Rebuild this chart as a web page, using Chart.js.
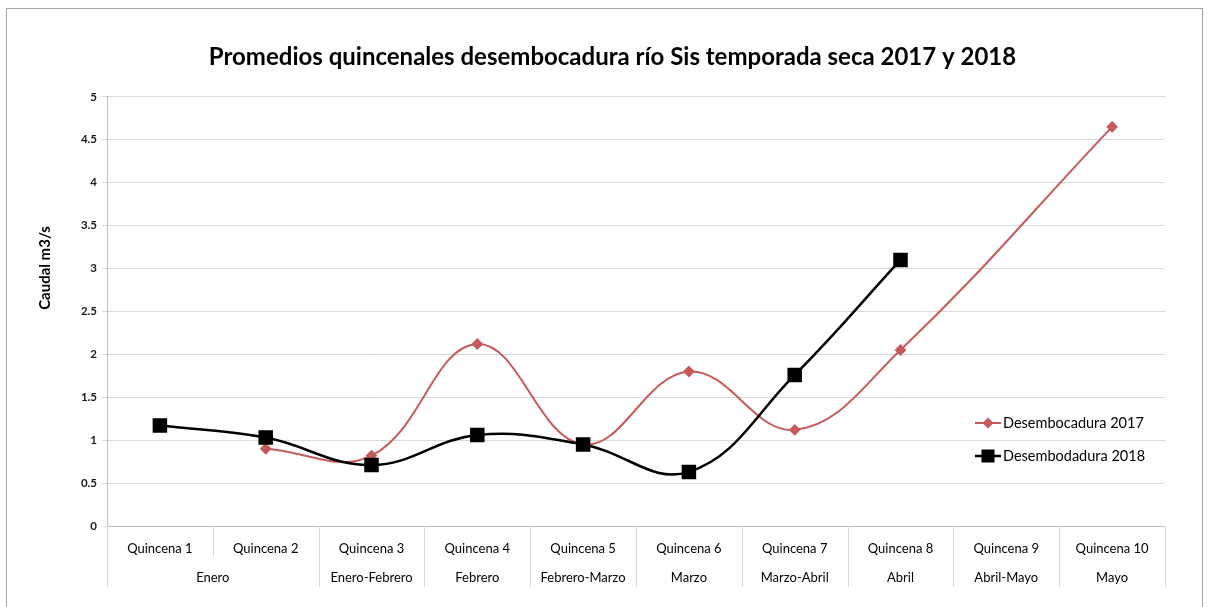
<!DOCTYPE html>
<html>
<head>
<meta charset="utf-8">
<script src="https://cdn.jsdelivr.net/npm/chart.js@4/dist/chart.umd.min.js"></script>
<style>
html,body{margin:0;padding:0;background:#fff;}
#wrap{position:relative;width:1208px;height:607px;overflow:hidden;}
#frame{position:absolute;left:6px;top:8px;width:1197px;height:640px;border:1px solid #a6a6a6;box-sizing:border-box;pointer-events:none;}
canvas{position:absolute;left:0;top:0;}
</style>
</head>
<body>
<div id="wrap"><canvas id="c" width="1208" height="607"></canvas><div id="frame"></div></div>
<script>
const titleText = 'Promedios quincenales desembocadura río Sis temporada seca 2017 y 2018';
const yTitle = 'Caudal m3/s';
const categories = ['Quincena 1','Quincena 2','Quincena 3','Quincena 4','Quincena 5','Quincena 6','Quincena 7','Quincena 8','Quincena 9','Quincena 10'];
const periods = ['Enero','Enero','Enero-Febrero','Febrero','Febrero-Marzo','Marzo','Marzo-Abril','Abril','Abril-Mayo','Mayo'];
const seriesNames = ['Desembocadura 2017','Desembodadura 2018'];
const values2017 = [null,0.9,0.82,2.12,0.95,1.8,1.12,2.05,null,4.65];
const values2018 = [1.17,1.03,0.71,1.06,0.95,0.63,1.76,3.1,null,null];
const yMin = 0, yMax = 5, yStep = 0.5;

const RED = '#c65a58';
const BLACK = '#000000';
const FONT = 'Lato';

const groupPlugin = {
  id: 'groupPlugin',
  afterDraw(chart) {
    const ctx = chart.ctx;
    const x = chart.scales.x;
    const n = categories.length;
    const half = (x.getPixelForValue(1) - x.getPixelForValue(0)) / 2;
    const top = Math.round(x.top);
    ctx.save();
    ctx.strokeStyle = '#d9d9d9';
    ctx.lineWidth = 1;
    for (let i = 0; i <= n; i++) {
      const bx = i < n ? x.getPixelForValue(i) - half : x.getPixelForValue(n - 1) + half;
      const same = i > 0 && i < n && periods[i] === periods[i - 1];
      const yEnd = same ? top + 31 : top + 61;
      const px = Math.round(bx) + 0.5;
      ctx.beginPath();
      ctx.moveTo(px, top);
      ctx.lineTo(px, yEnd);
      ctx.stroke();
    }
    // group labels
    ctx.fillStyle = '#000';
    ctx.font = '13px ' + FONT;
    ctx.textAlign = 'center';
    ctx.textBaseline = 'middle';
    let start = 0;
    for (let i = 1; i <= n; i++) {
      if (i === n || periods[i] !== periods[start]) {
        const cx = (x.getPixelForValue(start) + x.getPixelForValue(i - 1)) / 2;
        ctx.fillText(periods[start], cx, top + 52);
        start = i;
      }
    }
    // y axis title
    ctx.save();
    ctx.translate(45, 268);
    ctx.rotate(-Math.PI / 2);
    ctx.font = 'bold 15px ' + FONT;
    ctx.fillText(yTitle, 0, 0);
    ctx.restore();
    // legend inside plot
    const ds = chart.data.datasets;
    const rows = [423, 456];
    ds.forEach((d, i) => {
      const y = rows[i];
      ctx.strokeStyle = d.borderColor;
      ctx.lineWidth = d.borderWidth;
      ctx.beginPath();
      ctx.moveTo(975, y);
      ctx.lineTo(1001, y);
      ctx.stroke();
      ctx.fillStyle = d.pointBackgroundColor;
      ctx.strokeStyle = d.borderColor;
      Chart.helpers.drawPoint(ctx, {pointStyle: d.pointStyle, radius: d.legendRadius, rotation: 0, borderWidth: 1}, 988, y);
      ctx.fillStyle = '#000';
      ctx.font = '14.5px ' + FONT;
      ctx.textAlign = 'left';
      ctx.textBaseline = 'middle';
      ctx.fillText(d.label, 1003, y);
    });
    ctx.restore();
  }
};

new Chart(document.getElementById('c'), {
  type: 'line',
  data: {
    labels: categories,
    datasets: [
      {
        label: seriesNames[0],
        data: values2017,
        borderColor: RED,
        backgroundColor: RED,
        pointBackgroundColor: RED,
        pointBorderColor: RED,
        borderWidth: 2,
        pointStyle: 'rectRot',
        pointRadius: 4.5,
        legendRadius: 4,
        tension: 0.4,
        spanGaps: true,
        order: 1
      },
      {
        label: seriesNames[1],
        data: values2018,
        borderColor: BLACK,
        backgroundColor: BLACK,
        pointBackgroundColor: BLACK,
        pointBorderColor: BLACK,
        borderWidth: 2.5,
        pointStyle: 'rect',
        pointRadius: 8.5,
        legendRadius: 7.5,
        tension: 0.4,
        spanGaps: false,
        order: 0
      }
    ]
  },
  options: {
    responsive: false,
    animation: false,
    layout: { padding: { left: 60, right: 43, top: 0, bottom: 0 } },
    plugins: {
      legend: { display: false },
      tooltip: { enabled: false },
      title: {
        display: true,
        text: titleText,
        color: '#000',
        font: { family: FONT, size: 24, weight: 'bold' },
        padding: { top: 43, bottom: 25 }
      }
    },
    scales: {
      x: {
        type: 'category',
        offset: true,
        grid: { display: false, drawTicks: false },
        border: { display: true, color: '#bfbfbf' },
        ticks: { color: '#000', font: { family: FONT, size: 13 }, padding: 15, maxRotation: 0, autoSkip: false },
        afterFit(s) { s.height = 81; }
      },
      y: {
        min: yMin,
        max: yMax,
        ticks: {
          stepSize: yStep,
          color: '#1a1a1a',
          font: { family: FONT, size: 11.5, weight: 'bold' },
          padding: 5,
          callback: (v) => String(Math.round(v * 10) / 10)
        },
        grid: { color: '#d9d9d9', tickLength: 5, drawTicks: true },
        border: { display: true, color: '#bfbfbf' },
        afterFit(s) { s.width = 47; }
      }
    }
  },
  plugins: [groupPlugin]
});
</script>
</body>
</html>
